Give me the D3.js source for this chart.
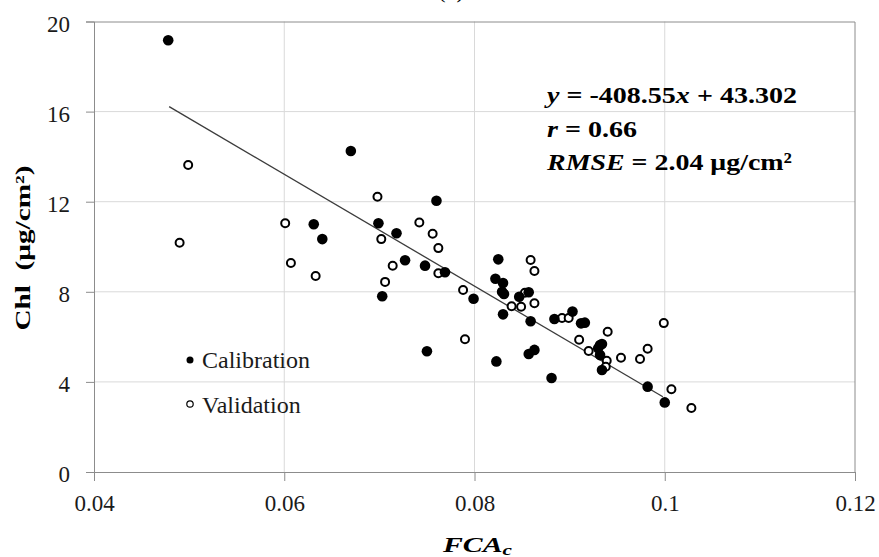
<!DOCTYPE html>
<meta charset="utf-8">
<head>
  <script src="https://d3js.org/d3.v7.min.js"></script>
  <style>
    body { margin: 0; background: #fff; }
  </style>
</head>
<body>
<div id="chart"></div>
<script>

// data
var calX = [0.0478, 0.0670, 0.0631, 0.0640, 0.0699, 0.0703, 0.0718, 0.0727, 0.0748, 0.0750,
            0.0760, 0.0769, 0.0799, 0.0825, 0.0822, 0.0830, 0.0829, 0.0831, 0.0830, 0.0823,
            0.0847, 0.0857, 0.0859, 0.0857, 0.0863, 0.0881, 0.0884, 0.0903, 0.0912, 0.0916,
            0.0932, 0.0934, 0.0930, 0.0932, 0.0934, 0.0982, 0.1000];
var calY = [19.17, 14.25, 11.00, 10.34, 11.04, 7.80, 10.60, 9.40, 9.16, 5.36,
            12.04, 8.87, 7.69, 9.44, 8.58, 8.39, 8.00, 7.90, 7.00, 4.91,
            7.78, 7.98, 6.69, 5.24, 5.42, 4.17, 6.79, 7.12, 6.60, 6.63,
            5.64, 5.68, 5.49, 5.19, 4.53, 3.79, 3.09];

var valX = [0.0499, 0.0490, 0.0601, 0.0607, 0.0633, 0.0698, 0.0702, 0.0706, 0.0714, 0.0742,
            0.0756, 0.0762, 0.0762, 0.0788, 0.0790, 0.0839, 0.0849, 0.0853, 0.0859, 0.0863,
            0.0863, 0.0892, 0.0899, 0.0910, 0.0920, 0.0940, 0.0939, 0.0938, 0.0954, 0.0974,
            0.0982, 0.0999, 0.1007, 0.1028];
var valY = [13.63, 10.18, 11.04, 9.28, 8.70, 12.22, 10.34, 8.44, 9.16, 11.08,
            10.58, 9.94, 8.82, 8.08, 5.89, 7.36, 7.34, 7.96, 9.41, 8.92,
            7.49, 6.84, 6.84, 5.87, 5.37, 6.23, 4.94, 4.67, 5.07, 5.02,
            5.47, 6.61, 3.67, 2.84];

// trend line as drawn (end points)
var trendX = [0.0479, 0.0998];
var trendY = [16.22, 3.34];

var xTicks = [0.04, 0.06, 0.08, 0.1, 0.12];
var yTicks = [0, 4, 8, 12, 16, 20];
var legendLabels = ["Calibration", "Validation"];

var W = 879, H = 557;
var margin = {top: 21.5, right: 24, bottom: 85, left: 94};
var width = W - margin.left - margin.right,
    height = H - margin.top - margin.bottom;

var serif = "'Liberation Serif'";

var svg = d3.select("#chart").append("svg")
    .attr("width", W)
    .attr("height", H);

var g = svg.append("g")
    .attr("transform", "translate(" + margin.left + "," + margin.top + ")");

var x = d3.scaleLinear().domain([0.04, 0.12]).range([0, width]);
var y = d3.scaleLinear().domain([0, 20]).range([height, 0]);

// gridlines
g.append("g").selectAll("line")
  .data(xTicks.slice(1, -1))
  .join("line")
    .attr("x1", d => x(d)).attr("x2", d => x(d))
    .attr("y1", 0).attr("y2", height)
    .attr("stroke", "#d9d9d9");
g.append("g").selectAll("line")
  .data(yTicks.slice(1, -1))
  .join("line")
    .attr("x1", 0).attr("x2", width)
    .attr("y1", d => y(d)).attr("y2", d => y(d))
    .attr("stroke", "#d9d9d9");

// plot border (top / right)
g.append("path")
  .attr("d", "M0,0.5H" + width + "V" + height)
  .attr("fill", "none")
  .attr("stroke", "#8c8c8c");

// axes
var xAxis = g.append("g")
  .attr("transform", "translate(0," + height + ")")
  .call(d3.axisBottom(x).tickValues(xTicks).tickSize(9).tickPadding(14)
        .tickFormat(d => String(+d.toFixed(2))));
var yAxis = g.append("g")
  .call(d3.axisLeft(y).tickValues(yTicks).tickSize(8).tickPadding(16));

[xAxis, yAxis].forEach(function(a) {
  a.select(".domain").attr("stroke", "#8c8c8c");
  a.selectAll(".tick line").attr("stroke", "#8c8c8c");
  a.selectAll(".tick text").attr("fill", "#1a1a1a").style("font-size", "23px");
});
yAxis.selectAll(".tick text").attr("dy", "0.42em");
xAxis.selectAll(".tick text").attr("dy", "0.71em");

// trend line
g.append("path")
  .datum(d3.zip(trendX, trendY))
  .attr("fill", "none")
  .attr("stroke", "#3c3c3c")
  .attr("stroke-width", 1.3)
  .attr("d", d3.line().x(d => x(d[0])).y(d => y(d[1])));

// points
g.append("g").selectAll("circle")
  .data(d3.zip(valX, valY))
  .join("circle")
    .attr("cx", d => x(d[0]))
    .attr("cy", d => y(d[1]))
    .attr("r", 4)
    .attr("fill", "#fff")
    .attr("stroke", "#000")
    .attr("stroke-width", 2);

g.append("g").selectAll("circle")
  .data(d3.zip(calX, calY))
  .join("circle")
    .attr("cx", d => x(d[0]))
    .attr("cy", d => y(d[1]))
    .attr("r", 5.3)
    .attr("fill", "#000");

// legend
var leg = svg.append("g");
leg.append("circle").attr("cx", 190).attr("cy", 360).attr("r", 3.5).attr("fill", "#000");
leg.append("circle").attr("cx", 190).attr("cy", 404).attr("r", 3.2)
  .attr("fill", "#fff").attr("stroke", "#000").attr("stroke-width", 1.2);
leg.selectAll("text")
  .data(legendLabels)
  .join("text")
    .attr("x", 202)
    .attr("y", (d, i) => 368 + i * 45)
    .style("font-size", "24px")
    .attr("fill", "#1a1a1a")
    .text(d => d);

// equation box (source text is drawn wider than the font, so stretch it)
var eq = svg.append("g")
  .attr("fill", "#000");
function eqLine(yy, len, parts) {
  var t = eq.append("text").attr("x", 547).attr("y", yy)
    .attr("textLength", len).attr("lengthAdjust", "spacingAndGlyphs")
    .style("font-size", "24px").style("font-weight", "bold");
  parts.forEach(function(p) {
    t.append("tspan").style("font-style", p[1] ? "italic" : "normal").text(p[0]);
  });
}
eqLine(103, 250, [["y", 1], [" = -408.55", 0], ["x", 1], [" + 43.302", 0]]);
eqLine(137, 90, [["r", 1], [" = 0.66", 0]]);
eqLine(170, 245, [["RMSE", 1], [" = 2.04 μg/cm²", 0]]);

// axis titles
svg.append("text")
  .attr("transform", "translate(30,248) rotate(-90)")
  .attr("text-anchor", "middle")
  .attr("textLength", 165).attr("lengthAdjust", "spacingAndGlyphs")
  .style("font-size", "22px")
  .style("font-weight", "bold")
  .style("white-space", "pre")
  .text("Chl  (μg/cm²)");

var xt = svg.append("text")
  .attr("x", 443)
  .attr("y", 552)
  .attr("textLength", 69).attr("lengthAdjust", "spacingAndGlyphs")
  .style("font-size", "21px")
  .style("font-weight", "bold")
  .style("font-style", "italic");
xt.append("tspan").text("FCA");
xt.append("tspan").style("font-size", "15px").attr("dy", 3).text("c");

// panel label, cut off at the top of the figure as in the source
svg.append("text")
  .attr("x", 451)
  .attr("y", -2)
  .attr("text-anchor", "middle")
  .style("font-size", "22px")
  .text("(b)");

// inline font on every text
svg.selectAll("text, tspan").style("font-family", serif);

</script>
</body>
